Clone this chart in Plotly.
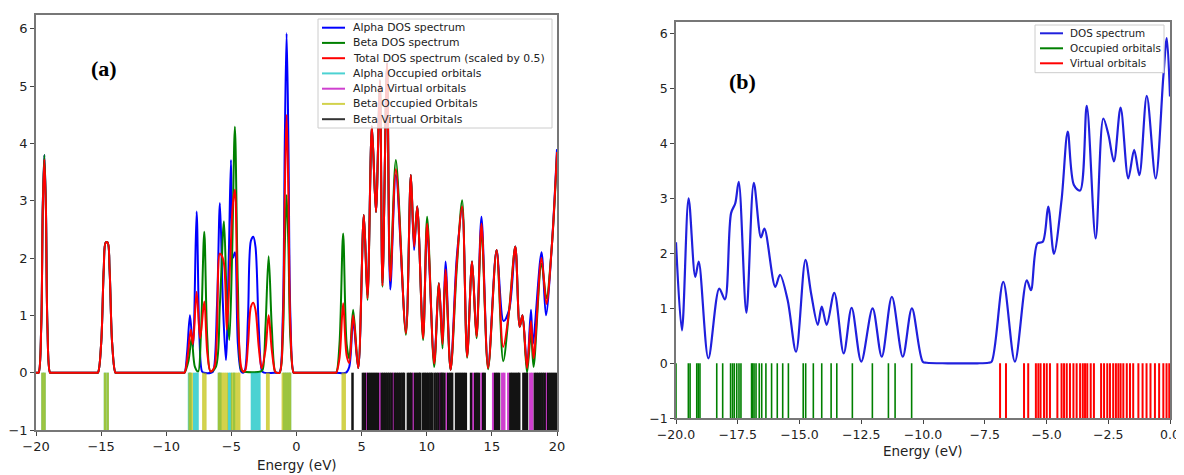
import plotly.graph_objects as go

# ---------------- Panel (a) data ----------------
alpha_x = [-20, -19.9, -19.8, -19.6, -19.48, -19.36, -19.24, -19.12, -18.92, -18.8,
           -15.4, -15.25, -15.0, -14.8, -14.65, -14.5, -14.35, -14.15, -13.9, -13.78,
           -8.75, -8.6, -8.4, -8.18, -7.95, -7.67, -7.45, -7.25, -7.1, -6.55, -6.4, -6.1, -5.88, -5.65, -5.42,
           -5.2, -5.03, -4.88, -4.73, -4.5, -4.25, -4.1, -3.95, -3.72, -3.5, -3.32, -3.15, -2.9, -2.65, -2.5,
           -1.45, -1.3, -1.05, -0.9, -0.76, -0.62, -0.47, -0.22, -0.1,
           3.0, 3.8, 4.05, 4.35, 4.74, 5.17, 5.45, 5.79, 6.1, 6.4, 6.6, 6.95, 7.2, 7.63,
           8.4, 8.78, 9.03, 9.27, 9.72, 10.03, 10.57, 10.93, 11.21, 11.44, 11.83, 12.3, 12.72,
           13.1, 13.48, 13.82, 14.2, 14.71, 15.36, 15.9, 16.33, 16.8, 17.14, 17.35, 17.7,
           18.0, 18.15, 18.81, 19.15, 19.6, 20.0]
alpha_y = [0, 0, 0.0, 0.8, 2.9, 3.8, 2.9, 0.8, 0.0, 0,
           0, 0.0, 0.5, 1.8, 2.27, 2.27, 1.8, 0.5, 0.0, 0,
           0, 0.0, 0.35, 1.0, 0.45, 2.81, 0.6, 0.02, 0, 0, 0.02, 1.2, 2.96, 1.2, 0.22,
           2.0, 3.71, 2.0, 2.1, 0.5, 0.02, 0, 0.05, 1.0, 2.3, 2.37, 2.2, 0.8, 0.03, 0,
           0, 0.0, 1.0, 4.0, 5.92, 4.0, 1.0, 0.0, 0,
           0.0, 0.0, 0.1, 0.9, 0.08, 2.75, 1.35, 4.3, 2.8, 5.1, 1.55, 5.4, 1.45, 3.45,
           0.72, 3.45, 2.14, 2.9, 0.65, 2.5, 0.2, 1.56, 0.55, 1.94, 0.05, 2.0, 2.85,
           0.3, 1.94, 0.65, 2.72, 0.1, 2.14, 0.9, 1.1, 2.2, 0.8, 1.0, 0.1,
           1.1, 0.5, 2.1, 1.0, 2.2, 3.9]

beta_x = [-20, -19.9, -19.8, -19.6, -19.48, -19.36, -19.24, -19.12, -18.92, -18.8,
          -15.4, -15.25, -15.0, -14.8, -14.65, -14.5, -14.35, -14.15, -13.9, -13.78,
          -8.75, -8.6, -8.3, -8.05, -7.8, -7.55, -7.35, -7.08, -6.85, -6.6, -6.2, -5.88, -5.57, -5.35,
          -5.16, -4.95, -4.73, -4.5, -4.25, -4.1, -2.75, -2.6, -2.38, -2.14, -1.9, -1.65, -1.55,
          -1.3, -1.05, -0.9, -0.76, -0.62, -0.47, -0.22, -0.1,
          2.9, 3.05, 3.3, 3.58, 3.85, 4.05, 4.35, 4.74, 5.17, 5.45, 5.79, 6.1, 6.4, 6.6, 6.95, 7.2, 7.63,
          8.4, 8.78, 9.03, 9.27, 9.72, 10.03, 10.57, 10.93, 11.21, 11.44, 11.83, 12.3, 12.72,
          13.1, 13.48, 13.82, 14.2, 14.71, 15.36, 15.87, 16.33, 16.8, 17.14, 17.35, 17.7,
          18.0, 18.2, 18.81, 19.19, 19.6, 20.0]
beta_y = [0, 0, 0.0, 0.8, 2.9, 3.8, 2.9, 0.8, 0.0, 0,
          0, 0.0, 0.5, 1.8, 2.27, 2.27, 1.8, 0.5, 0.0, 0,
          0, 0.0, 0.2, 0.6, 0.1, 0.02, 0.6, 2.46, 0.6, 0.02, 0.1, 1.2, 2.64, 1.2,
          0.57, 2.0, 4.29, 1.5, 0.05, 0.02, 0.02, 0.05, 0.8, 2.03, 0.8, 0.02, 0,
          0.0, 0.6, 2.2, 3.1, 2.2, 0.6, 0.0, 0,
          0, 0.0, 0.5, 2.43, 0.5, 0.25, 1.1, 0.08, 2.75, 1.27, 4.3, 2.8, 5.1, 1.5, 5.4, 1.7, 3.71,
          0.66, 3.45, 2.25, 2.9, 0.57, 2.72, 0.1, 1.56, 0.42, 1.7, 0.05, 1.8, 3.01,
          0.26, 1.94, 0.6, 2.5, 0.06, 2.14, 0.2, 1.1, 2.2, 0.8, 1.0, 0.0,
          0.7, 0.1, 1.9, 1.3, 2.2, 3.8]

total_x = [-20, -19.9, -19.8, -19.6, -19.48, -19.36, -19.24, -19.12, -18.92, -18.8,
           -15.4, -15.25, -15.0, -14.8, -14.65, -14.5, -14.35, -14.15, -13.9, -13.78,
           -8.75, -8.6, -8.35, -8.12, -7.95, -7.67, -7.4, -7.08, -6.85, -6.6, -6.3, -5.88, -5.6, -5.35,
           -5.1, -4.9, -4.73, -4.5, -4.25, -4.1, -3.95, -3.72, -3.5, -3.32, -3.15, -2.9, -2.68,
           -2.38, -2.14, -1.9, -1.65, -1.55,
           -1.3, -1.05, -0.9, -0.76, -0.62, -0.47, -0.22, -0.1,
           2.9, 3.05, 3.3, 3.58, 3.85, 4.05, 4.35, 4.74, 5.17, 5.45, 5.79, 6.1, 6.4, 6.6, 6.95, 7.2, 7.63,
           8.4, 8.78, 9.03, 9.27, 9.72, 10.03, 10.57, 10.93, 11.21, 11.44, 11.83, 12.3, 12.72,
           13.1, 13.48, 13.82, 14.2, 14.71, 15.36, 15.87, 16.33, 16.8, 17.14, 17.35, 17.7,
           18.0, 18.2, 18.81, 19.19, 19.6, 20.0]
total_y = [0, 0, 0.0, 0.78, 2.85, 3.72, 2.85, 0.78, 0.0, 0,
           0, 0.0, 0.5, 1.8, 2.27, 2.27, 1.8, 0.5, 0.0, 0,
           0, 0.0, 0.3, 0.75, 0.5, 1.41, 0.6, 1.24, 0.35, 0.02, 0.1, 2.08, 1.95, 0.75,
           1.9, 2.9, 3.19, 1.0, 0.1, 0.02, 0.03, 0.5, 1.15, 1.22, 1.1, 0.45, 0.08,
           0.4, 1.0, 0.4, 0.02, 0,
           0.0, 0.8, 3.1, 4.5, 3.1, 0.8, 0.0, 0,
           0, 0.0, 0.25, 1.21, 0.3, 0.17, 1.0, 0.08, 2.75, 1.3, 4.3, 2.8, 5.1, 1.52, 5.4, 1.6, 3.55,
           0.69, 3.45, 2.2, 2.9, 0.6, 2.6, 0.16, 1.56, 0.5, 1.8, 0.05, 1.9, 2.9,
           0.28, 1.94, 0.63, 2.6, 0.08, 2.14, 0.45, 1.09, 2.2, 0.8, 1.0, 0.08,
           0.9, 0.25, 2.0, 1.2, 2.2, 3.85]

alpha_occ = [-19.5, -19.35, -14.7, -14.5, -8.25, -8.15, -7.85, -7.7, -7.6,
             -5.95, -5.85, -5.2, -5.05, -4.8, -3.42, -3.27, -3.12, -2.97, -2.85,
             -0.95, -0.8, -0.65, -0.5]
alpha_virt = [5.38, 6.4, 7.42, 8.96, 11.0, 11.52, 13.56, 14.2, 15.1, 15.8, 15.95,
              16.26, 17.95, 18.1, 19.19]
beta_occ = [-19.5, -19.35, -14.7, -14.5, -8.2, -8.05, -7.15, -7.0,
            -5.95, -5.8, -5.65, -5.5, -5.35, -4.95, -4.8, -4.65, -4.5, -4.4,
            -2.25, -2.15, -1.05, -0.9, -0.75, -0.6, -0.5, 3.55, 3.7]
beta_virt = [4.3, 5.1, 5.25, 5.5, 5.65, 5.8, 5.95, 6.1, 6.25, 6.55, 6.7, 6.85, 7.0, 7.15, 7.3,
             7.55, 7.7, 7.85, 8.0, 8.15, 8.25, 8.55, 8.7, 8.82, 9.1, 9.25, 9.4, 9.5,
             9.72, 9.85, 10.0, 10.15, 10.3, 10.4, 10.6, 10.75, 10.9, 11.12, 11.2, 11.35,
             11.65, 11.8, 11.95, 12.25, 12.4, 12.55, 12.7, 12.85, 13.0, 13.4,
             13.72, 13.86, 14.0, 14.33, 14.45, 15.25, 15.4, 15.55,
             16.42, 16.55, 16.7, 16.85, 17.0, 17.1, 17.42, 17.55, 17.7,
             18.3, 18.45, 18.6, 18.75, 18.9, 19.05, 19.32, 19.47, 19.62, 19.77, 19.92]

# ---------------- Panel (b) data ----------------
dos_x = [-20, -19.76, -19.49, -19.22, -19.08, -18.69, -18.25, -18.02, -17.77, -17.6,
         -17.46, -17.15, -16.85, -16.56, -16.42, -15.98, -15.79, -15.48, -15.14, -14.76,
         -14.53, -14.26, -14.1, -13.9, -13.59, -13.21, -12.89, -12.5, -12.04, -11.67,
         -11.26, -10.82, -10.45, -10.01, -9.85, -9.0, -7.8, -7.35, -7.22, -6.75, -6.28, -5.80, -5.63,
         -5.37, -5.15, -4.93, -4.70, -4.39, -4.14, -3.89, -3.64, -3.37, -3.01, -2.70,
         -2.49, -2.27, -2.0, -1.69, -1.45, -1.24, -0.94, -0.58, -0.27, -0.13, 0.0]
dos_y = [2.2, 0.6, 3.0, 1.57, 1.85, 0.09, 1.36, 1.16, 2.73, 2.91,
         3.30, 0.92, 3.28, 2.29, 2.45, 1.39, 1.61, 1.15, 0.21, 1.88,
         1.27, 0.70, 1.03, 0.70, 1.28, 0.18, 1.01, 0.03, 1.0, 0.12,
         1.21, 0.12, 1.0, 0.03, 0.01, 0.0, 0.0, 0.01, 0.03, 1.48, 0.03, 1.51, 1.33,
         2.18, 2.21, 2.85, 1.99, 2.97, 4.21, 3.24, 3.14, 4.68, 2.27, 4.45,
         4.15, 3.67, 4.65, 3.36, 3.88, 3.42, 4.86, 3.36, 5.21, 5.91, 4.85]

occupied = [-20.0, -19.50, -19.43, -19.16, -19.10, -19.03, -18.35, -18.11, -17.79, -17.71,
            -17.64, -17.54, -17.45, -17.37, -16.94, -16.90, -16.84, -16.76, -16.63, -16.53,
            -16.36, -16.13, -15.90, -15.68, -15.45, -14.85, -14.75, -14.44, -14.10, -13.72,
            -13.49, -12.86, -12.05, -11.40, -11.13, -10.46]
virtual = [-6.88, -6.64, -5.91, -5.74, -5.43, -5.33, -5.24, -5.10, -4.99, -4.86, -4.56,
           -4.39, -4.29, -4.18, -4.05, -3.91, -3.78, -3.64, -3.53, -3.44, -3.35, -3.21,
           -3.08, -2.79, -2.67, -2.54, -2.43, -2.30, -2.19, -2.09, -2.00, -1.89, -1.75,
           -1.62, -1.49, -1.28, -1.11, -0.95, -0.79, -0.61, -0.44, -0.27, -0.14, -0.03]

legend_a = ["Alpha DOS spectrum", "Beta DOS spectrum", "Total DOS spectrum (scaled by 0.5)",
            "Alpha Occupied orbitals", "Alpha Virtual orbitals", "Beta Occupied Orbitals",
            "Beta Virtual Orbitals"]
legend_b = ["DOS spectrum", "Occupied orbitals", "Virtual orbitals"]


def sticks(energies):
    xs, ys = [], []
    for e in energies:
        xs += [e, e, None]
        ys += [0, -1, None]
    return xs, ys


# page offset (body margin of the html page) compensation
OFF = 8
W, H = 1184 - OFF, 475 - OFF


def PX(px):
    return (px - OFF) / W


def PY(py):
    return 1 - (py - OFF) / H


fig = go.Figure()

col_a = ["#0000ff", "#008000", "#ff0000", "rgba(0,191,191,0.7)", "rgba(191,0,191,0.75)",
         "rgba(191,191,0,0.7)", "rgba(0,0,0,0.8)"]

# Panel (a)
sp = dict(shape="spline", smoothing=0.9)
fig.add_trace(go.Scatter(x=alpha_x, y=alpha_y, mode="lines", name=legend_a[0],
                         line=dict(color=col_a[0], width=2, **sp), xaxis="x", yaxis="y"))
fig.add_trace(go.Scatter(x=beta_x, y=beta_y, mode="lines", name=legend_a[1],
                         line=dict(color=col_a[1], width=2, **sp), xaxis="x", yaxis="y"))
fig.add_trace(go.Scatter(x=total_x, y=total_y, mode="lines", name=legend_a[2],
                         line=dict(color=col_a[2], width=2, **sp), xaxis="x", yaxis="y"))
for vals, nm, col, op in [(alpha_occ, legend_a[3], "#00bfbf", 0.7),
                          (alpha_virt, legend_a[4], "#bf00bf", 0.75),
                          (beta_occ, legend_a[5], "#bfbf00", 0.7),
                          (beta_virt, legend_a[6], "#000000", 0.92)]:
    sx, sy = sticks(vals)
    fig.add_trace(go.Scatter(x=sx, y=sy, mode="lines", name=nm, opacity=op,
                             line=dict(color=col, width=2.5), xaxis="x", yaxis="y"))

# Panel (b)
fig.add_trace(go.Scatter(x=dos_x, y=dos_y, mode="lines", name=legend_b[0],
                         line=dict(color="#2020dd", width=2.2, **sp), xaxis="x2", yaxis="y2"))
sx, sy = sticks(occupied)
fig.add_trace(go.Scatter(x=sx, y=sy, mode="lines", name=legend_b[1],
                         line=dict(color="#008000", width=1.6), xaxis="x2", yaxis="y2"))
sx, sy = sticks(virtual)
fig.add_trace(go.Scatter(x=sx, y=sy, mode="lines", name=legend_b[2],
                         line=dict(color="#ff0000", width=2), xaxis="x2", yaxis="y2"))

axis_common = dict(showline=True, mirror=True, linecolor="#777", linewidth=1.5,
                   ticks="outside", ticklen=4, tickcolor="#444", showgrid=False,
                   zeroline=False, automargin=False)
font_a = dict(family="DejaVu Sans", size=13, color="#222")
font_b = dict(family="DejaVu Sans", size=12.5, color="#222")

# hand-placed legends (compact rows like the original)
shapes = []
annotations = []


def add_legend(x0, x1, y0, y1, line_x0, line_x1, text_x, rows_y, labels, colors, fsize):
    shapes.append(dict(type="rect", xref="paper", yref="paper", x0=PX(x0), x1=PX(x1),
                       y0=PY(y1), y1=PY(y0), fillcolor="rgba(255,255,255,0.8)",
                       line=dict(color="#cccccc", width=1), layer="above"))
    for ry, lab, c in zip(rows_y, labels, colors):
        shapes.append(dict(type="line", xref="paper", yref="paper", x0=PX(line_x0), x1=PX(line_x1),
                           y0=PY(ry), y1=PY(ry), line=dict(color=c, width=2), layer="above"))
        annotations.append(dict(text=lab, x=PX(text_x), y=PY(ry), xref="paper", yref="paper",
                                xanchor="left", yanchor="middle", showarrow=False,
                                font=dict(family="DejaVu Sans", size=fsize, color="#222")))


add_legend(318, 552, 19, 128, 322, 345, 351,
           [27.7, 42.9, 58.2, 73.4, 88.7, 103.9, 119.2], legend_a, col_a, 10.8)
add_legend(1035, 1164, 25, 72.7, 1040, 1063, 1068,
           [33.3, 48.3, 63.3], legend_b, ["#2020dd", "#008000", "#ff0000"], 10.4)

annotations += [
    dict(text="<b>(a)</b>", x=PX(104), y=PY(69), xref="paper", yref="paper",
         xanchor="center", yanchor="middle",
         showarrow=False, font=dict(family="Liberation Serif", size=22, color="black")),
    dict(text="<b>(b)</b>", x=PX(742), y=PY(82), xref="paper", yref="paper",
         xanchor="center", yanchor="middle",
         showarrow=False, font=dict(family="Liberation Serif", size=22, color="black")),
    dict(text="Energy (eV)", x=PX(297), y=PY(465), xref="paper", yref="paper",
         xanchor="center", yanchor="middle",
         showarrow=False, font=dict(family="DejaVu Sans", size=13.5, color="#222")),
    dict(text="Energy (eV)", x=PX(923), y=PY(451), xref="paper", yref="paper",
         xanchor="center", yanchor="middle",
         showarrow=False, font=dict(family="DejaVu Sans", size=13.5, color="#222")),
]

fig.update_layout(
    width=W, height=H, template="none",
    paper_bgcolor="white", plot_bgcolor="white",
    margin=dict(l=0, r=0, t=0, b=0),
    showlegend=False,
    xaxis=dict(domain=[PX(36), PX(557)], range=[-20, 20], tickfont=font_a,
               tickvals=[-20, -15, -10, -5, 0, 5, 10, 15, 20], anchor="y", **axis_common),
    yaxis=dict(domain=[PY(430), PY(15)], range=[-1, 6.24], tickfont=font_a,
               tickvals=[-1, 0, 1, 2, 3, 4, 5, 6], anchor="x", **axis_common),
    xaxis2=dict(domain=[PX(676), PX(1170)], range=[-20, 0], tickfont=font_b,
                tickvals=[-20, -17.5, -15, -12.5, -10, -7.5, -5, -2.5, 0], tickformat=".1f",
                anchor="y2", **axis_common),
    yaxis2=dict(domain=[PY(418.3), PY(21.7)], range=[-1, 6.21], tickfont=font_b,
                tickvals=[-1, 0, 1, 2, 3, 4, 5, 6], anchor="x2", **axis_common),
    shapes=shapes,
    annotations=annotations,
)

fig.write_html("out.html")
